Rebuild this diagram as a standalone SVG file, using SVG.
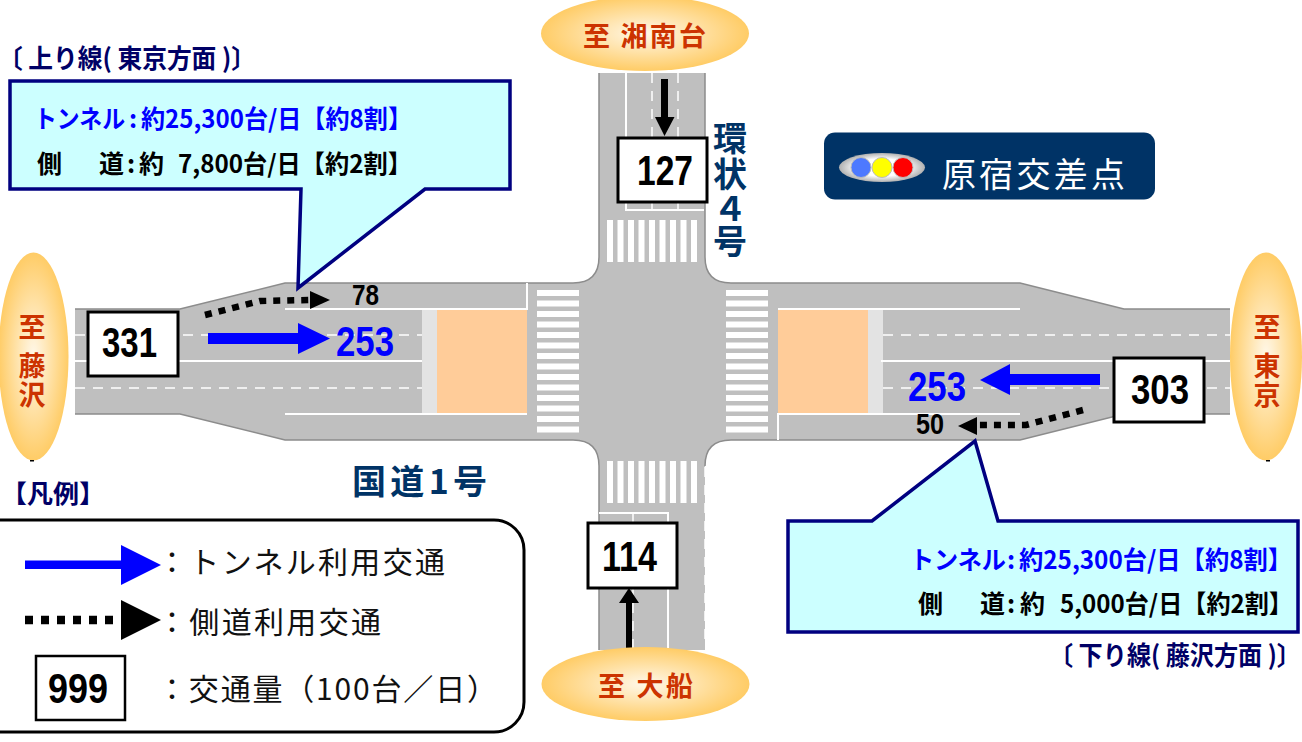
<svg xmlns="http://www.w3.org/2000/svg" width="1302" height="742" viewBox="0 0 1302 742">
<style>
text{font-family:"Noto Sans CJK JP","Liberation Sans",sans-serif}
.num{font-family:"Liberation Sans",Arial,sans-serif;font-weight:700;font-size:43px}
.dest{fill:#cc3300;font-weight:700;font-size:27px}
.road{fill:#bfbfbf;stroke:none}
.edge{fill:none;stroke:#8c8c8c;stroke-width:1.5}
.wl{stroke:#fff;stroke-width:2;fill:none}
.wd{stroke:#fff;stroke-width:1.5;fill:none;stroke-dasharray:10 8}
.zebra{fill:#fff}
.box{fill:#fff;stroke:#000;stroke-width:3}
.dot{fill:none;stroke:#000;stroke-width:6.500;stroke-dasharray:7 7}
.call{fill:#ccffff;stroke:#000080;stroke-width:3.500;stroke-linejoin:miter}
.blue{fill:#0000ff}
.nv{fill:#000066;font-weight:700}
.rt{fill:#003366;font-weight:700;font-size:34px}
.ct{font-weight:700;font-size:25px}
.lg{font-size:30px;fill:#111}
</style>
<defs>
<radialGradient id="g"><stop offset="0" stop-color="#fff8ea"/><stop offset="1" stop-color="#ffcc66"/></radialGradient>
<radialGradient id="lamp"><stop offset="0.6" stop-color="#fff"/><stop offset="1" stop-color="#b0b0b0"/></radialGradient>
</defs>
<g id="road">
<path class="road" d="M75 309H180L285 283H573Q599 283 599 257V73H705V257Q705 283 731 283H1020L1124 309H1230V414H1124L1020 440H731Q705 440 705 466V650H599V466Q599 440 573 440H285L180 414H75Z"/>
<path class="edge" d="M75 309H180L285 283H573Q599 283 599 257V73M705 73V257Q705 283 731 283H1020L1124 309H1230M1230 414H1124L1020 440H731Q705 440 705 466M599 650V466Q599 440 573 440H285L180 414H75"/>
<rect x="422" y="310" width="15" height="103" fill="#e3e3e3"/>
<rect x="437" y="310" width="90" height="103" fill="#ffcc99"/>
<rect x="868" y="310" width="15" height="103" fill="#e3e3e3"/>
<rect x="778" y="310" width="90" height="103" fill="#ffcc99"/>
<path class="wl" d="M75 361H422M285 309H527V283M285 414H527M1020 309H778M1020 414H778V440M881 361H1230M626 73V210H704M599 513H668V650"/>
<path class="wd" d="M75 335H422M75 388H422M883 335H1230M883 388H1230M652 73V210M678 73V210M633 513V650M705 467V640"/>
<g class="zebra">
<path d="M537 290h42v6h-42zM537 300.500h42v6h-42zM537 311h42v6h-42zM537 321.500h42v6h-42zM537 332h42v6h-42zM537 342.500h42v6h-42zM537 353h42v6h-42zM537 363.500h42v6h-42zM537 374h42v6h-42zM537 384.500h42v6h-42zM537 395h42v6h-42zM537 405.500h42v6h-42zM537 416h42v6h-42zM537 426.500h42v6h-42z"/>
<path d="M726 290h42v6h-42zM726 300.500h42v6h-42zM726 311h42v6h-42zM726 321.500h42v6h-42zM726 332h42v6h-42zM726 342.500h42v6h-42zM726 353h42v6h-42zM726 363.500h42v6h-42zM726 374h42v6h-42zM726 384.500h42v6h-42zM726 395h42v6h-42zM726 405.500h42v6h-42zM726 416h42v6h-42zM726 426.500h42v6h-42z"/>
<path d="M607 220h6v42h-6zM617.500 220h6v42h-6zM628 220h6v42h-6zM638.500 220h6v42h-6zM649 220h6v42h-6zM659.500 220h6v42h-6zM670 220h6v42h-6zM680.500 220h6v42h-6zM691 220h6v42h-6z"/>
<path d="M607 461h6v42h-6zM617.500 461h6v42h-6zM628 461h6v42h-6zM638.500 461h6v42h-6zM649 461h6v42h-6zM659.500 461h6v42h-6zM670 461h6v42h-6zM680.500 461h6v42h-6zM691 461h6v42h-6z"/>
</g>
</g>
<g id="connectors">
<path class="blue" d="M208 333H298V323L330 338.500L298 354V344H208Z"/>
<path class="blue" d="M1100 374H1010V364L980 380L1010 395V385H1100Z"/>
<path class="dot" d="M205 315L260 301L310 300"/>
<path d="M310 291L330 300L310 309Z"/>
<path class="dot" d="M1083 410L1026 425L978 425"/>
<path d="M977 417L958 426L977 435Z"/>
<path d="M661 79H668V117H674.500L664.500 136L655 117H661Z"/>
<path d="M626 652H632V603H639L629 588L619 603H626Z"/>
</g>
<g id="dest-n"><ellipse cx="645" cy="33.500" rx="104" ry="37.500" fill="url(#g)"/><text class="dest" x="583" y="46" textLength="123">至 湘南台</text></g>
<g id="dest-s"><ellipse cx="645.500" cy="684" rx="104" ry="37" fill="url(#g)"/><text class="dest" x="598" y="696" textLength="95">至 大船</text></g>
<g id="dest-w"><ellipse cx="33.500" cy="356.500" rx="35" ry="104" fill="url(#g)"/><rect x="30" y="460" width="4" height="1.500"/><text class="dest" text-anchor="middle"><tspan x="32" y="337">至</tspan><tspan x="32" y="376">藤</tspan><tspan x="32" y="405">沢</tspan></text></g>
<g id="dest-e"><ellipse cx="1266" cy="356.500" rx="36" ry="104" fill="url(#g)"/><rect x="1266" y="460" width="4" height="1.500"/><text class="dest" text-anchor="middle"><tspan x="1267" y="337">至</tspan><tspan x="1267" y="376">東</tspan><tspan x="1267" y="405">京</tspan></text></g>
<g id="count-w"><rect class="box" x="88" y="312" width="90" height="64"/><text class="num" x="102" y="357" textLength="55" lengthAdjust="spacingAndGlyphs">331</text></g>
<g id="count-e"><rect class="box" x="1114" y="358" width="90" height="64"/><text class="num" x="1131" y="404" textLength="58" lengthAdjust="spacingAndGlyphs">303</text></g>
<g id="count-n"><rect class="box" x="618" y="138" width="89" height="64"/><text class="num" x="637" y="185" textLength="56" lengthAdjust="spacingAndGlyphs">127</text></g>
<g id="count-s"><rect class="box" x="588" y="523" width="89" height="65"/><text class="num" x="602" y="571" textLength="55" lengthAdjust="spacingAndGlyphs">114</text></g>
<g id="labels">
<text class="num" x="336" y="356" textLength="58" lengthAdjust="spacingAndGlyphs" fill="#0000ff">253</text>
<text class="num" x="908" y="401" textLength="58" lengthAdjust="spacingAndGlyphs" fill="#0000ff">253</text>
<text class="num" x="352" y="305" textLength="27" lengthAdjust="spacingAndGlyphs" style="font-size:29px">78</text>
<text class="num" x="916" y="434" textLength="28" lengthAdjust="spacingAndGlyphs" style="font-size:29px">50</text>
<text class="rt" x="352" y="494" textLength="135">国道1号</text>
<text class="rt" text-anchor="middle"><tspan x="730" y="151">環</tspan><tspan x="730" y="187">状</tspan><tspan x="730" y="221">４</tspan><tspan x="730" y="254">号</tspan></text>
</g>
<g id="callout-up">
<text class="nv" x="-2" y="68" textLength="258" lengthAdjust="spacingAndGlyphs" style="font-size:26px">〔 上り線( 東京方面 )〕</text>
<path class="call" d="M10 81H510V189H425L298 288L301 189H10Z"/>
<text class="ct" fill="#0000ff" x="34" y="128" textLength="91" lengthAdjust="spacingAndGlyphs">トンネル</text>
<text class="ct" fill="#0000ff" x="129" y="128">:</text>
<text class="ct" fill="#0000ff" x="141" y="128" textLength="271" lengthAdjust="spacingAndGlyphs">約25,300台/日【約8割】</text>
<text class="ct" fill="#000"><tspan x="37" y="173">側</tspan><tspan x="99" y="173">道</tspan><tspan x="127" y="173">:</tspan><tspan x="139" y="173">約</tspan></text>
<text class="ct" fill="#000" x="178" y="173" textLength="234" lengthAdjust="spacingAndGlyphs">7,800台/日【約2割】</text>
</g>
<g id="callout-down">
<path class="call" d="M788 632V521H872L975 441L998 521H1298V632Z"/>
<text class="ct" fill="#0000ff" x="910" y="569" textLength="96" lengthAdjust="spacingAndGlyphs">トンネル</text>
<text class="ct" fill="#0000ff" x="1007" y="569">:</text>
<text class="ct" fill="#0000ff" x="1019" y="569" textLength="273" lengthAdjust="spacingAndGlyphs">約25,300台/日【約8割】</text>
<text class="ct" fill="#000"><tspan x="918" y="613">側</tspan><tspan x="980" y="613">道</tspan><tspan x="1007" y="613">:</tspan><tspan x="1020" y="613">約</tspan></text>
<text class="ct" fill="#000" x="1060" y="613" textLength="233" lengthAdjust="spacingAndGlyphs">5,000台/日【約2割】</text>
<text class="nv" x="1049" y="665" textLength="252" lengthAdjust="spacingAndGlyphs" style="font-size:26px">〔 下り線( 藤沢方面 )〕</text>
</g>
<g id="title">
<rect x="824" y="132.500" width="331" height="67" rx="11" fill="#003366"/>
<ellipse cx="882" cy="167.500" rx="43" ry="14.500" fill="url(#lamp)"/>
<g stroke="#bbb" stroke-width="1"><circle cx="861" cy="167.500" r="10" fill="#4d79ff"/><circle cx="882" cy="167.500" r="10" fill="#ffff00"/><circle cx="903" cy="167.500" r="10" fill="#ff0000"/></g>
<text x="942" y="187" fill="#fff" font-size="34" textLength="183">原宿交差点</text>
</g>
<g id="legend">
<text class="nv" x="1" y="503" textLength="104" lengthAdjust="spacingAndGlyphs" style="font-size:25px">【凡例】</text>
<rect x="-30" y="520" width="554" height="212" rx="30" fill="#fff" stroke="#000" stroke-width="3"/>
<path class="blue" d="M25 560.500H121V545L161 565L121 585V569H25Z"/>
<path d="M25 620H121" style="fill:none;stroke:#000;stroke-width:8.500;stroke-dasharray:8 8"/>
<path d="M121 600L161 620L121 640Z"/>
<rect x="36" y="656" width="89" height="64" fill="#fff" stroke="#000" stroke-width="2.500"/>
<text class="num" x="48" y="703" textLength="60" lengthAdjust="spacingAndGlyphs">999</text>
<text class="lg" x="157" y="573" textLength="288">：トンネル利用交通</text>
<text class="lg" x="157" y="633" textLength="224">：側道利用交通</text>
<text class="lg" x="157" y="700" textLength="340">：交通量（100台／日）</text>
</g>
</svg>
